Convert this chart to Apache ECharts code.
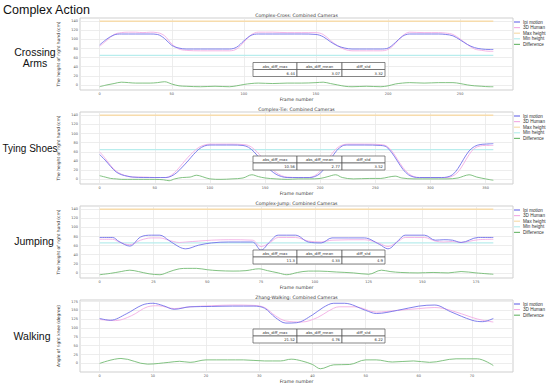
<!DOCTYPE html>
<html><head><meta charset="utf-8">
<script src="https://cdn.jsdelivr.net/npm/echarts@6/dist/echarts.min.js"></script>
<style>html,body{margin:0;padding:0;background:#fff}#c{width:550px;height:386px}</style>
</head><body><div id="c"></div>
<script>
// ---------- DATA ----------
const pageTitle = 'Complex Action';
const rowLabels = ['Crossing\nArms', 'Tying Shoes', 'Jumping', 'Walking'];
const chartTitles = ['Complex-Cross: Combined Cameras', 'Complex-Tie: Combined Cameras', 'Complex-Jump: Combined Cameras', 'Zhang-Walking: Combined Cameras'];
const xName = 'Frame number';
const yNames = ['The height of right hand (cm)', 'The height of right hand (cm)', 'The height of right hand (cm)', 'Angle of right knee (degree)'];
const legendNames = [
  ['Ipi motion', '3D Human', 'Max height', 'Min height', 'Difference'],
  ['Ipi motion', '3D Human', 'Max height', 'Min height', 'Difference'],
  ['Ipi motion', '3D Human', 'Max height', 'Min height', 'Difference'],
  ['Ipi motion', '3D Human', 'Difference']
];
const tableHeaders = ['abs_diff_max', 'abs_diff_mean', 'diff_std'];
const tableValues = [['6.44', '3.07', '3.32'], ['10.56', '2.77', '3.52'], ['11.3', '4.33', '4.9'], ['21.52', '4.76', '6.22']];

const crossXTicks = [0, 50, 100, 150, 200, 250];
const tieXTicks = [0, 50, 100, 150, 200, 250, 300, 350];
const jumpXTicks = [0, 25, 50, 75, 100, 125, 150, 175];
const walkXTicks = [0, 10, 20, 30, 40, 50, 60, 70];
const heightYTicks = [0, 20, 40, 60, 80, 100, 120, 140];
const angleYTicks = [0, 25, 50, 75, 100, 125, 150, 175];

const maxHeights = [140, 140, 140];
const minHeights = [65, 65, 66];

const crossIpi = [[0,88],[5,101],[10,110],[15,112],[20,112],[25,112],[30,112],[35,112],[40,111],[45,102],[50,87],[55,81],[60,79],[70,79],[80,79],[90,79],[95,83],[100,97],[105,109],[110,112],[120,112],[130,112],[140,112],[150,111],[155,106],[160,95],[165,86],[170,81],[175,79],[185,79],[195,79],[200,81],[205,93],[210,107],[215,112],[225,112],[235,112],[240,111],[245,108],[250,99],[255,89],[260,82],[265,79],[270,78],[273,78]];
const crossHuman = [[0,85],[5,98],[10,111],[15,115],[20,116],[25,116],[30,115],[35,116],[40,115],[45,108],[50,90],[55,79],[60,76],[70,75],[80,75],[90,75],[95,79],[100,94],[105,110],[110,116],[120,116],[130,115],[140,115],[150,115],[155,111],[160,98],[165,86],[170,78],[175,75],[185,75],[195,75],[200,78],[205,91],[210,108],[215,116],[225,115],[235,115],[240,114],[245,111],[250,101],[255,89],[260,79],[265,76],[270,74],[273,74]];
const crossDiff = [[0,-4],[5,0],[10,3],[15,6],[20,5],[25,4],[30,4],[35,4],[40,5],[45,7],[50,2],[55,-2],[60,-3],[70,-4],[80,-3],[90,-4],[95,-2],[100,1],[105,3],[110,4],[120,3],[130,4],[140,4],[150,5],[155,6],[160,3],[165,0],[170,-3],[175,-4],[185,-3],[195,-4],[200,-2],[205,2],[210,4],[215,5],[225,4],[235,5],[240,5],[245,5],[250,3],[255,0],[260,-2],[265,-3],[270,-4],[273,-4]];

const tieIpi = [[0,54],[5,42],[10,28],[15,16],[20,10],[25,7],[30,5],[40,4],[50,4],[60,4],[65,7],[70,15],[75,27],[80,40],[85,54],[90,66],[95,73],[100,75],[110,75],[120,75],[130,74],[135,70],[140,60],[145,46],[150,32],[155,20],[160,11],[165,6],[170,4],[180,4],[190,4],[195,6],[200,13],[205,28],[210,46],[215,63],[220,73],[225,75],[240,75],[255,74],[260,71],[265,58],[270,40],[275,22],[280,10],[285,5],[290,4],[300,4],[310,4],[315,5],[320,10],[325,24],[330,44],[335,62],[340,72],[345,76],[350,77],[357,78]];
const tieHuman = [[0,60],[5,46],[10,30],[15,18],[20,11],[25,7],[30,5],[40,5],[50,4],[60,4],[65,9],[70,20],[75,34],[80,48],[85,60],[90,70],[95,75],[100,77],[110,77],[120,77],[130,76],[135,74],[140,66],[145,54],[150,40],[155,26],[160,15],[165,8],[170,5],[180,4],[190,4],[195,8],[200,18],[205,35],[210,54],[215,68],[220,75],[225,77],[240,77],[255,76],[260,73],[265,62],[270,44],[275,26],[280,13],[285,6],[290,4],[300,4],[310,4],[315,4],[320,7],[325,16],[330,34],[335,54],[340,68],[345,73],[350,74],[357,74]];
const tieDiff = [[0,8],[5,5],[10,2],[15,1],[20,0],[30,0],[40,0],[50,0],[58,-1],[63,-3],[68,1],[75,4],[82,5],[88,9],[93,6],[100,1],[110,0],[120,1],[130,3],[138,10],[144,6],[150,3],[160,1],[170,0],[180,1],[190,1],[200,2],[207,6],[214,10],[220,4],[230,1],[245,2],[255,2],[262,5],[268,7],[274,3],[285,1],[300,1],[315,1],[325,3],[330,7],[335,10],[342,5],[350,1],[357,-2]];

const jumpIpi = [[0,78],[6,78],[9,69],[14,59],[19,79],[24,83],[28,83],[32,72],[37,57],[40,53],[46,61],[52,66],[60,68],[71,68],[75,50],[79,68],[83,83],[91,83],[97,68],[103,66],[108,77],[123,77],[130,63],[134,53],[139,72],[142,83],[151,83],[156,72],[160,73],[164,72],[168,67],[176,78],[183,78]];
const jumpHuman = [[0,74],[6,74],[9,68],[14,62],[19,72],[24,77],[28,77],[32,72],[37,67],[40,68],[46,70],[52,72],[60,73],[71,72],[75,58],[79,66],[83,78],[91,78],[97,70],[103,68],[108,72],[123,73],[130,65],[134,58],[139,70],[142,78],[151,78],[156,70],[160,68],[164,69],[168,67],[176,73],[183,74]];
const jumpDiff = [[0,-4],[5,-1],[10,3],[14,6],[18,3],[23,-2],[28,-4],[32,2],[37,9],[41,10],[45,10],[50,7],[55,5],[62,4],[68,5],[74,9],[78,5],[83,0],[87,-4],[92,1],[97,4],[102,4],[110,2],[118,0],[125,-3],[131,6],[135,3],[140,1],[148,0],[155,1],[162,0],[168,3],[175,0],[183,-3]];

const walkIpi = [[0,127],[2,122],[5,140],[8,165],[10,170],[12,163],[14,153],[17,160],[21,161],[25,162],[29,162],[31,156],[33,130],[35,114],[37,115],[40,137],[42,158],[44,170],[46,170],[50,150],[52,141],[56,150],[60,162],[63,165],[66,146],[70,122],[72,118],[74,127]];
const walkHuman = [[0,124],[3,121],[6,135],[9,160],[11,163],[14,155],[17,160],[21,163],[25,165],[29,164],[31,158],[33,135],[35,120],[38,117],[41,130],[43,148],[45,160],[48,160],[52,145],[56,150],[60,155],[63,158],[66,150],[70,130],[72,122],[74,117]];
const walkDiff = [[0,0],[4,14],[9,-2],[13,3],[15,6],[17,3],[20,10],[24,10],[27,10],[31,7],[34,7],[36,12],[38,7],[40,-3],[41.5,-15],[44,-4],[47,-3],[50,10],[52,10],[55,4],[59,7],[62,3],[67,13],[71,13],[74,-6]];

// ---------- LAYOUT / STYLE ----------
const gridTops = [18, 112, 206, 300];
const gridH = 72, gridL = 80, gridW = 433;
const tableTops = [62.5, 156, 250, 329];
const tableCols = [253, 297, 342, 385];
const tableRowH = 7;
const colors = {ipi: '#7373ea', human: '#f3aee4', maxH: '#f7dcac', minH: '#b8eded', diff: '#74bb74'};
const smallFont = 'DejaVu Sans';

const sets = [
  {ipi: crossIpi, human: crossHuman, diff: crossDiff, xt: crossXTicks, yt: heightYTicks, lim: true},
  {ipi: tieIpi, human: tieHuman, diff: tieDiff, xt: tieXTicks, yt: heightYTicks, lim: true},
  {ipi: jumpIpi, human: jumpHuman, diff: jumpDiff, xt: jumpXTicks, yt: heightYTicks, lim: true},
  {ipi: walkIpi, human: walkHuman, diff: walkDiff, xt: walkXTicks, yt: angleYTicks, lim: false}
];

const grids = [], xAxes = [], yAxes = [], series = [], legends = [], graphics = [];
sets.forEach((s, i) => {
  const last = s.ipi[s.ipi.length - 1][0];
  const vals = [].concat(s.ipi, s.human, s.diff).map(p => p[1]);
  if (s.lim) { vals.push(maxHeights[i], minHeights[i]); }
  const lo = Math.min(...vals), hi = Math.max(...vals), sp = hi - lo;
  grids.push({left: gridL, top: gridTops[i], width: gridW, height: gridH, show: true, borderColor: '#cfcfcf', borderWidth: 1, backgroundColor: '#fff'});
  xAxes.push({type: 'value', gridIndex: i, min: -0.05 * last, max: 1.05 * last,
    name: xName, nameLocation: 'middle', nameGap: 4.2, nameTextStyle: {fontSize: 4.6, color: '#333', fontFamily: smallFont, verticalAlign: 'top'},
    axisLine: {show: false}, axisTick: {show: false, customValues: s.xt},
    axisLabel: {customValues: s.xt, fontSize: 3.5, color: '#555', margin: 2, fontFamily: smallFont},
    splitLine: {show: true, lineStyle: {color: '#e8e8e8', width: 0.8}}});
  yAxes.push({type: 'value', gridIndex: i, min: lo - 0.05 * sp, max: hi + 0.05 * sp,
    name: yNames[i], nameLocation: 'middle', nameGap: 10, nameTextStyle: {fontSize: 4.4, color: '#333', fontFamily: smallFont},
    axisLine: {show: false}, axisTick: {show: false, customValues: s.yt},
    axisLabel: {customValues: s.yt, fontSize: 3.5, color: '#555', margin: 2, fontFamily: smallFont},
    splitLine: {show: true, lineStyle: {color: '#e8e8e8', width: 0.8}}});
  const base = {type: 'line', xAxisIndex: i, yAxisIndex: i, symbol: 'none', silent: true, animation: false};
  series.push(Object.assign({}, base, {name: 'Ipi motion', data: s.ipi, smooth: 0.35, color: colors.ipi, lineStyle: {width: 0.9, color: colors.ipi}, z: 4}));
  series.push(Object.assign({}, base, {name: '3D Human', data: s.human, smooth: 0.35, color: colors.human, lineStyle: {width: 0.9, color: colors.human}, z: 3}));
  if (s.lim) {
    series.push(Object.assign({}, base, {name: 'Max height', data: [[0, maxHeights[i]], [last, maxHeights[i]]], color: colors.maxH, lineStyle: {width: 1.4, color: colors.maxH}, z: 2}));
    series.push(Object.assign({}, base, {name: 'Min height', data: [[0, minHeights[i]], [last, minHeights[i]]], color: colors.minH, lineStyle: {width: 1.4, color: colors.minH}, z: 2}));
  }
  series.push(Object.assign({}, base, {name: 'Difference', data: s.diff, smooth: 0.35, color: colors.diff, lineStyle: {width: 0.9, color: colors.diff}, z: 3}));
  legends.push({orient: 'vertical', left: 514, top: gridTops[i] + 1.5, data: legendNames[i], selectedMode: false,
    icon: 'rect', itemWidth: 6, itemHeight: 1.2, itemGap: 0.6, padding: 0,
    textStyle: {fontSize: 4.6, color: '#333', fontFamily: 'Liberation Sans', lineHeight: 4.6, padding: [0, 0, 0, -2]}});
  // chart title
  graphics.push({type: 'text', x: gridL + gridW / 2, y: gridTops[i] - 2.5,
    style: {text: chartTitles[i], fontSize: 4.6, fill: '#333', fontFamily: smallFont, align: 'center', verticalAlign: 'middle'}});
  // table
  const tt = tableTops[i];
  const cells = [];
  for (let r = 0; r < 2; r++) {
    for (let c = 0; c < 3; c++) {
      cells.push({type: 'rect', shape: {x: tableCols[c], y: tt + r * tableRowH, width: tableCols[c + 1] - tableCols[c], height: tableRowH},
        style: {fill: '#fff', stroke: '#555', lineWidth: 0.7}, z: 100});
      const isH = r === 0;
      cells.push({type: 'text', z: 101,
        x: isH ? (tableCols[c] + tableCols[c + 1]) / 2 : tableCols[c + 1] - 2,
        y: tt + r * tableRowH + tableRowH / 2,
        style: {text: isH ? tableHeaders[c] : tableValues[i][c], fontSize: 3.8, fill: '#333', fontFamily: smallFont,
          align: isH ? 'center' : 'right', verticalAlign: 'middle'}});
    }
  }
  graphics.push(...cells);
});

// page labels
graphics.push({type: 'text', x: 3, y: 10, style: {text: pageTitle, fontSize: 12.5, fill: '#111', fontFamily: 'Liberation Sans', verticalAlign: 'middle'}});
const rowCenters = [[35, 57], [30, 148], [34, 241], [32, 336]];
rowLabels.forEach((t, i) => {
  graphics.push({type: 'text', x: rowCenters[i][0], y: rowCenters[i][1],
    style: {text: t, fontSize: i === 1 ? 10 : 10.5, lineHeight: 11, fill: '#111', fontFamily: 'Liberation Sans', align: 'center', verticalAlign: 'middle'}});
});

const chart = echarts.init(document.getElementById('c'), null, {renderer: 'svg'});
chart.setOption({
  animation: false,
  backgroundColor: '#fff',
  grid: grids, xAxis: xAxes, yAxis: yAxes, series: series, legend: legends,
  graphic: {elements: graphics}
});
</script></body></html>
